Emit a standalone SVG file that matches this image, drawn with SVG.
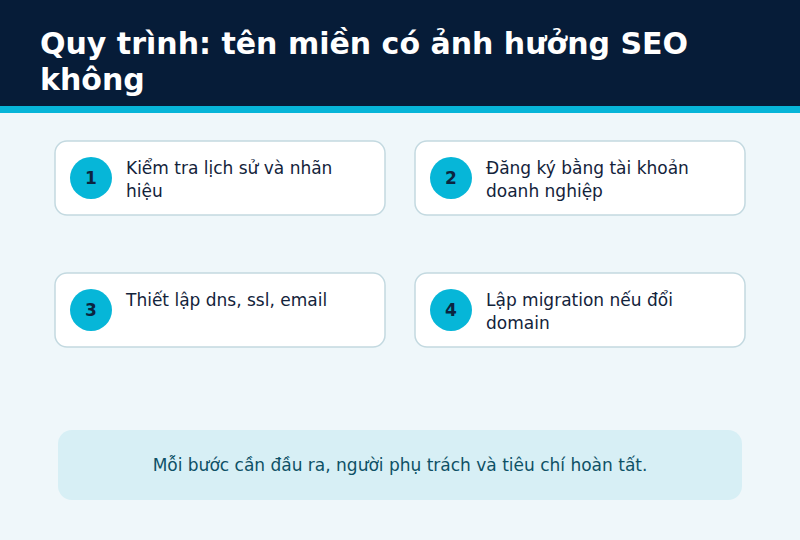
<svg xmlns="http://www.w3.org/2000/svg" width="800" height="540" viewBox="0 0 800 540">
<style>
.title{font-family:"DejaVu Sans",sans-serif;font-weight:bold;font-size:30px;fill:#ffffff}
.card{fill:#ffffff;stroke:#c3d9e0;stroke-width:1.5}
.badge{fill:#06b6d8}
.num{font-family:"DejaVu Sans",sans-serif;font-weight:bold;font-size:17px;fill:#0b2440;text-anchor:middle}
.lbl{font-family:"DejaVu Sans",sans-serif;font-size:17px;fill:#13233b}
.note{fill:#d7eff5}
.notet{font-family:"DejaVu Sans",sans-serif;font-size:17px;fill:#0e5166;text-anchor:middle}
</style>
<rect x="0" y="0" width="800" height="540" fill="#eff7fa"/>
<rect x="0" y="0" width="800" height="106" fill="#061c38"/>
<rect x="0" y="106" width="800" height="7" fill="#07b5d8"/>
<text class="title" x="40" y="54">Quy trình: tên miền có ảnh hưởng SEO</text>
<text class="title" x="40" y="90">không</text>
<g id="connectors"></g>
<g id="node1">
<rect class="card" x="55" y="141" width="330" height="74" rx="12"/>
<circle class="badge" cx="91" cy="178" r="21"/>
<text class="num" x="91" y="184">1</text>
<text class="lbl" x="126" y="174">Kiểm tra lịch sử và nhãn</text>
<text class="lbl" x="126" y="197">hiệu</text>
</g>
<g id="node2">
<rect class="card" x="415" y="141" width="330" height="74" rx="12"/>
<circle class="badge" cx="451" cy="178" r="21"/>
<text class="num" x="451" y="184">2</text>
<text class="lbl" x="486" y="174">Đăng ký bằng tài khoản</text>
<text class="lbl" x="486" y="197">doanh nghiệp</text>
</g>
<g id="node3">
<rect class="card" x="55" y="273" width="330" height="74" rx="12"/>
<circle class="badge" cx="91" cy="310" r="21"/>
<text class="num" x="91" y="316">3</text>
<text class="lbl" x="126" y="306">Thiết lập dns, ssl, email</text>
</g>
<g id="node4">
<rect class="card" x="415" y="273" width="330" height="74" rx="12"/>
<circle class="badge" cx="451" cy="310" r="21"/>
<text class="num" x="451" y="316">4</text>
<text class="lbl" x="486" y="306">Lập migration nếu đổi</text>
<text class="lbl" x="486" y="329">domain</text>
</g>
<g id="note">
<rect class="note" x="58" y="430" width="684" height="70" rx="14"/>
<text class="notet" x="400" y="471">Mỗi bước cần đầu ra, người phụ trách và tiêu chí hoàn tất.</text>
</g>
</svg>
